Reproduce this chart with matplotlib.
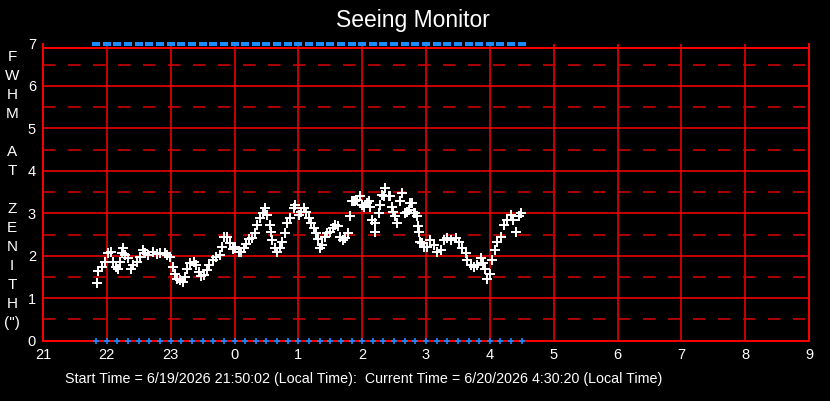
import matplotlib
matplotlib.use("Agg")
import matplotlib.pyplot as plt

plt.rcParams['font.family'] = ['Liberation Sans', 'DejaVu Sans']

# minutes after 21:00 (local) and FWHM at zenith (arcsec)
minutes = [51.1, 52.0, 55.2, 58.4, 61.5, 63.7, 66.2, 68.7, 70.9, 72.5, 74.1, 75.6, 77.2, 80.3,
           82.5, 85.0, 88.2, 91.3, 93.8, 96.0, 99.1, 103.8, 107.0, 110.1, 114.8, 117.0, 119.5,
           122.1, 124.2, 126.4, 128.9, 131.5, 133.6, 135.8, 138.4, 141.5, 144.0, 146.2, 148.7,
           150.9, 154.1, 156.5, 159.7, 162.8, 166.6, 168.2, 170.4, 172.9,
           176.0, 178.2, 180.7, 183.8, 186.4, 188.5, 190.8, 193.9, 196.4, 198.9, 201.1, 204.2,
           206.4, 208.9, 210.5, 213.7, 214.6, 215.3, 217.7, 220.0, 222.4, 224.7, 227.1, 229.4,
           232.5, 235.6, 237.2, 240.3, 242.8, 245.0, 247.3, 249.7, 252.2, 254.4, 256.7, 258.5,
           260.7, 262.3, 264.8, 267.0, 270.1, 272.3, 274.8, 277.4, 279.5, 281.7, 284.2, 286.8,
           288.9, 290.6, 292.1, 293.7, 295.3, 298.4, 300.0, 301.5, 304.7, 306.2, 307.8, 309.4,
           311.8, 312.5, 315.6, 317.2, 318.8, 320.3, 321.9, 325.0, 325.7, 328.2, 328.8, 331.3,
           332.9, 335.4, 336.0, 337.6, 340.7, 342.3, 343.8, 345.4, 347.0, 348.6, 350.1, 351.7,
           352.7, 353.2, 354.8, 356.4, 357.9, 361.1, 364.2, 367.3, 370.5, 373.7, 376.8, 380.0,
           383.1, 387.8, 390.9, 394.1, 397.2, 398.8, 401.9, 405.0, 408.2, 411.3, 413.8, 415.1,
           417.6, 420.1, 422.3, 424.5, 427.0, 430.1, 433.2, 436.4, 439.5, 442.1, 444.2, 447.4,
           449.6]
fwhm = [1.37, 1.64, 1.74, 1.86, 2.06, 2.10, 1.86, 1.74, 1.70, 1.86, 2.06, 2.18, 2.02, 1.94,
        1.70, 1.78, 1.86, 1.98, 2.14, 2.06, 2.02, 2.10, 2.04, 2.06, 2.06, 2.02, 1.98,
        1.74, 1.58, 1.46, 1.42, 1.38, 1.50, 1.70, 1.82, 1.86, 1.78, 1.62, 1.52,
        1.54, 1.66, 1.78, 1.90, 1.96, 2.02, 2.21, 2.44, 2.45,
        2.29, 2.15, 2.21, 2.10, 2.10, 2.18, 2.28, 2.39, 2.41, 2.53, 2.73, 2.89,
        3.01, 3.13, 2.97, 2.73, 2.57, 2.37, 2.18, 2.10, 2.18, 2.33, 2.53, 2.77,
        2.89, 3.13, 3.20, 2.97, 3.04, 3.13, 3.04, 2.89, 2.77, 2.65, 2.53, 2.39,
        2.18, 2.25, 2.45, 2.53, 2.57, 2.65, 2.73, 2.69, 2.45, 2.37, 2.41, 2.53,
        2.93, 3.28, 3.28, 3.28, 3.32, 3.40, 3.20, 3.16, 3.24, 3.28, 3.16, 2.85,
        2.77, 2.57, 3.01, 3.20, 3.44, 3.40, 3.60, 3.40, 3.40, 3.16, 3.04, 2.93,
        2.77, 3.28, 3.28, 3.48, 3.01, 3.04, 3.08, 3.24, 3.24, 3.01, 3.01, 2.93,
        2.69, 2.57, 2.33, 2.29, 2.21, 2.21, 2.37, 2.25, 2.10, 2.14, 2.37, 2.41,
        2.37, 2.41, 2.33, 2.18, 2.06, 1.90, 1.78, 1.74, 1.78, 1.94, 1.82, 1.70,
        1.46, 1.58, 1.90, 2.14, 2.33, 2.45, 2.73, 2.85, 2.97, 2.85, 2.57, 2.93,
        3.01]

# status markers (minutes after 21:00)
status_minutes = [50, 60, 70, 80, 90, 100, 110, 120, 130, 140, 150, 160, 170, 180, 190, 200,
                  210, 220, 230, 240, 250, 260, 270, 280, 290, 300, 310, 320, 330, 340, 350,
                  360, 370, 380, 390, 400, 410, 420, 430, 440, 450]

x_ticks = [21, 22, 23, 24, 25, 26, 27, 28, 29, 30, 31, 32, 33]
x_tick_labels = ["21", "22", "23", "0", "1", "2", "3", "4", "5", "6", "7", "8", "9"]
y_ticks = [0, 1, 2, 3, 4, 5, 6, 7]
title = "Seeing Monitor"
footer = "Start Time = 6/19/2026 21:50:02 (Local Time):  Current Time = 6/20/2026 4:30:20 (Local Time)"
ylabel_chars = ["F", "W", "H", "M", "", "A", "T", "", "Z", "E", "N", "I", "T", "H", "(\")"]

W, H = 830, 401
fig = plt.figure(figsize=(W / 100, H / 100), dpi=100, facecolor="black")
ax = fig.add_axes([43 / W, (H - 340.7) / H, 766 / W, 297.2 / H], facecolor="black")

ax.set_xlim(21, 33)
ax.set_ylim(0, 7)

red = "#ff0000"
dred = "#cc0000"
for xv in x_ticks[1:-1]:
    ax.axvline(xv, color=red, lw=1.1, zorder=1)
for yv in y_ticks[1:-1]:
    ax.axhline(yv, color=red, lw=1.1, zorder=1)
for yv in [0.5, 1.5, 2.5, 3.5, 4.5, 5.5, 6.5]:
    ax.axhline(yv, color=dred, lw=1.2, dashes=(7.5, 7.5), zorder=1)
ax.axhline(6.89, color=red, lw=1.4, zorder=1)

for s in ["left", "bottom", "right"]:
    ax.spines[s].set_color(red)
    ax.spines[s].set_linewidth(1.4)
ax.spines["top"].set_visible(False)

hours = [21 + m / 60 for m in minutes]
ax.plot(hours, fwhm, linestyle="none", marker="+", color="white", markersize=6.5,
        markeredgewidth=1.4, zorder=3)

s_hours = [21 + m / 60 for m in status_minutes]
ax.plot(s_hours, [0] * len(s_hours), linestyle="none", marker="+", color="#1a8cff",
        markersize=4.5, markeredgewidth=1.2, clip_on=False, zorder=4)
rect = [(-1, -0.56), (1, -0.56), (1, 0.56), (-1, 0.56), (-1, -0.56)]
ax.plot(s_hours, [7] * len(s_hours), linestyle="none", marker=rect, color="#1a8cff",
        markersize=6.2, markeredgewidth=0, clip_on=False, zorder=4)

ax.set_xticks(x_ticks)
ax.set_xticklabels(x_tick_labels)
ax.set_yticks(y_ticks)
ax.set_yticklabels([str(v) for v in y_ticks])
ax.tick_params(axis="both", length=0, colors="white", labelsize=10.5)
ax.tick_params(axis="x", pad=5)
ax.tick_params(axis="y", pad=5)

fig.text(413 / W, 1 - 21 / H, title, color="white", fontsize=16.5, ha="center", va="center")
fig.text(364 / W, 1 - 379 / H, footer, color="white", fontsize=10.3, ha="center", va="center")

for i, ch in enumerate(ylabel_chars):
    if ch:
        fig.text(12 / W, 1 - (57 + 19 * i) / H, ch, color="white", fontsize=11,
                 ha="center", va="center")

fig.savefig("out.png", dpi=100, facecolor="black")
